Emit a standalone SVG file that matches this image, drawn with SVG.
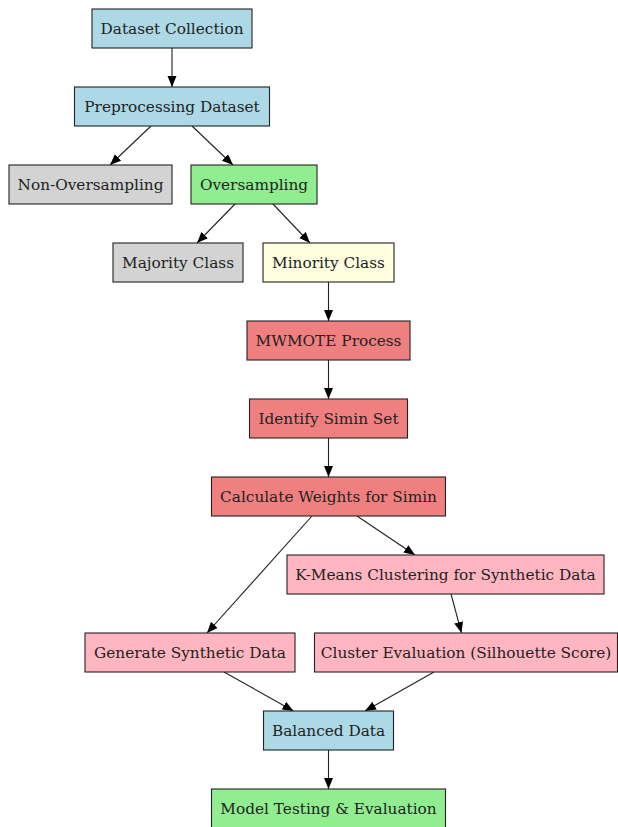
<svg xmlns="http://www.w3.org/2000/svg" width="618" height="827" viewBox="0 0 618 827">
<style>
.n rect{stroke:#222;stroke-width:1.1}
.n text{font-family:"DejaVu Serif",serif;font-size:15.3px;fill:#222;text-anchor:middle;dominant-baseline:central}
.blue{fill:#add8e6}.gray{fill:#d3d3d3}.green{fill:#90ee90}.yellow{fill:#ffffe0}.coral{fill:#f08080}.pink{fill:#ffb6c1}
#edges line{stroke:#222;stroke-width:1.1;marker-end:url(#ah)}
</style>
<defs>
<marker id="ah" markerUnits="userSpaceOnUse" markerWidth="12" markerHeight="10" refX="11" refY="4.5" orient="auto">
<path d="M0,0 L11,4.5 L0,9 Z" fill="#000"/>
</marker>
</defs>
<rect width="618" height="827" fill="#fff"/>
<g id="edges">
<line x1="172" y1="48" x2="172" y2="87"/>
<line x1="151" y1="126" x2="110" y2="165"/>
<line x1="192" y1="126" x2="233" y2="165"/>
<line x1="235" y1="204" x2="197" y2="243"/>
<line x1="273" y1="204" x2="310" y2="243"/>
<line x1="328.5" y1="282" x2="328.5" y2="321"/>
<line x1="328.5" y1="360" x2="328.5" y2="399"/>
<line x1="328.5" y1="438" x2="328.5" y2="477"/>
<line x1="312" y1="516" x2="207" y2="633"/>
<line x1="357" y1="516" x2="415" y2="555"/>
<line x1="451" y1="594" x2="461.5" y2="633"/>
<line x1="224" y1="672" x2="293.5" y2="711"/>
<line x1="434" y1="672" x2="365" y2="711"/>
<line x1="328.5" y1="750" x2="328.5" y2="789"/>
</g>
<g id="dataset" class="n"><rect class="blue" x="92" y="9" width="160" height="39"/><text x="172" y="28.5">Dataset Collection</text></g>
<g id="preprocess" class="n"><rect class="blue" x="74.5" y="87" width="195" height="39"/><text x="172" y="106.5">Preprocessing Dataset</text></g>
<g id="nonover" class="n"><rect class="gray" x="9" y="165" width="163" height="39"/><text x="90.5" y="184.5">Non-Oversampling</text></g>
<g id="over" class="n"><rect class="green" x="191" y="165" width="126" height="39"/><text x="254" y="184.5">Oversampling</text></g>
<g id="majority" class="n"><rect class="gray" x="113" y="243" width="130" height="39"/><text x="178" y="262.5">Majority Class</text></g>
<g id="minority" class="n"><rect class="yellow" x="263" y="243" width="131" height="39"/><text x="328.5" y="262.5">Minority Class</text></g>
<g id="mwmote" class="n"><rect class="coral" x="247" y="321" width="163" height="39"/><text x="328.5" y="340.5">MWMOTE Process</text></g>
<g id="simin" class="n"><rect class="coral" x="249.5" y="399" width="158" height="39"/><text x="328.5" y="418.5">Identify Simin Set</text></g>
<g id="weights" class="n"><rect class="coral" x="211.5" y="477" width="234" height="39"/><text x="328.5" y="496.5">Calculate Weights for Simin</text></g>
<g id="kmeans" class="n"><rect class="pink" x="287" y="555" width="317" height="39"/><text x="445.5" y="574.5">K-Means Clustering for Synthetic Data</text></g>
<g id="generate" class="n"><rect class="pink" x="85" y="633" width="210" height="39"/><text x="190" y="652.5">Generate Synthetic Data</text></g>
<g id="cluster" class="n"><rect class="pink" x="314.5" y="633" width="303" height="39"/><text x="466" y="652.5">Cluster Evaluation (Silhouette Score)</text></g>
<g id="balanced" class="n"><rect class="blue" x="263.5" y="711" width="130" height="39"/><text x="328.5" y="730.5">Balanced Data</text></g>
<g id="model" class="n"><rect class="green" x="211.5" y="789" width="234" height="39"/><text x="328.5" y="808.5">Model Testing &amp; Evaluation</text></g>
</svg>
